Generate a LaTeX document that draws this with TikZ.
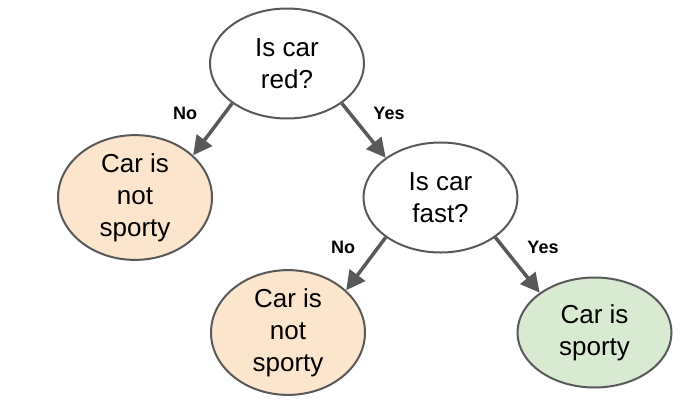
\documentclass[tikz,border=0pt]{standalone}
\usepackage{fontspec}
\setmainfont{Liberation Sans}
\usetikzlibrary{shapes.geometric,arrows.meta}
\definecolor{edgegray}{HTML}{595959}
\definecolor{nofill}{HTML}{FCE5CD}
\definecolor{yesfill}{HTML}{D9EAD3}
\tikzset{
  decision/.style={ellipse, draw=edgegray, line width=2pt, minimum width=154pt, minimum height=110pt, inner sep=0pt, align=center, font=\fontsize{26}{32}\selectfont, fill=white},
  leafno/.style={decision, fill=nofill},
  leafyes/.style={decision, fill=yesfill},
  conn/.style={draw=edgegray, line width=3.5pt, -{Triangle[length=19pt,width=19pt]}},
  lbl/.style={font=\fontsize{18}{20}\selectfont\bfseries, inner sep=0pt}
}
\begin{document}
\begin{tikzpicture}[x=1pt,y=-1pt]
\useasboundingbox (0,0) rectangle (680,402);
\node[decision] (red) at (287,63.5) {Is car\\red?};
\node[leafno] (notA) at (135,197.5) {Car is\\not\\sporty};
\node[decision] (fast) at (440.5,197.5) {Is car\\fast?};
\node[leafno] (notB) at (288,332.5) {Car is\\not\\sporty};
\node[leafyes] (sporty) at (594.5,332.5) {Car is\\sporty};
\draw[conn] (red.216) -- (notA.36);
\draw[conn] (red.-36) -- (fast.144);
\draw[conn] (fast.216) -- (notB.36);
\draw[conn] (fast.-36) -- (sporty.144);
\node[lbl] (no1) at (185,113) {No};
\node[lbl] (yes1) at (389,113) {Yes};
\node[lbl] (no2) at (343,247) {No};
\node[lbl] (yes2) at (543,247) {Yes};
\end{tikzpicture}
\end{document}
